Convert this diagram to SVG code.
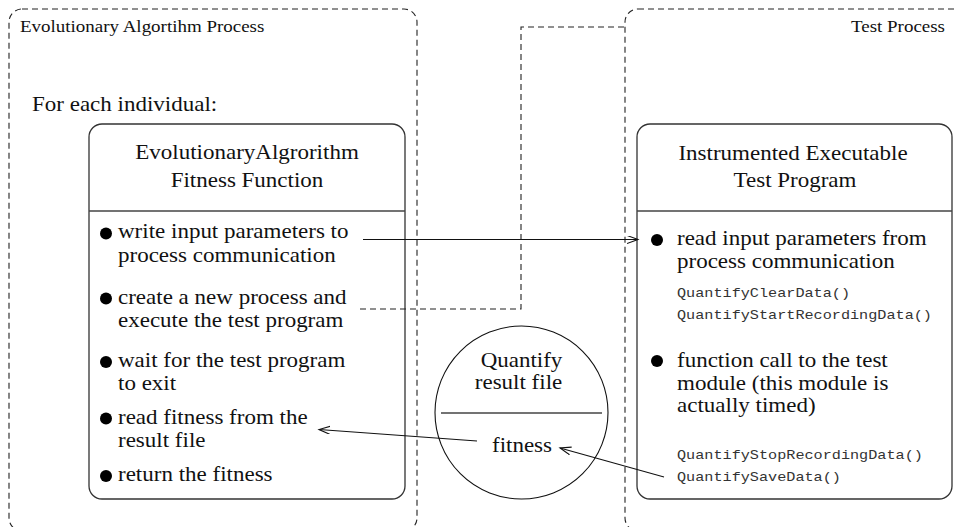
<svg xmlns="http://www.w3.org/2000/svg" width="954" height="527" viewBox="0 0 954 527">
  <defs>
    <style>
      .t { font-family: "Liberation Serif", "Times New Roman", serif; font-size: 20px; fill: #111; }
      .h { font-size: 16.5px; }
      .c { text-anchor: middle; }
      .e { text-anchor: end; }
      .m { font-family: "Liberation Mono", "Courier New", monospace; font-size: 13.2px; fill: #333; }
      .proc { fill: none; stroke: #222; stroke-width: 1.1; stroke-dasharray: 6 4; }
      .box { fill: #fff; stroke: #333; stroke-width: 1.3; }
      .div { stroke: #444; stroke-width: 1.3; }
      .dot { fill: #000; }
      .link { fill: none; stroke: #111; stroke-width: 1.1; }
      .dlink { fill: none; stroke: #222; stroke-width: 1.1; stroke-dasharray: 6 4; }
    </style>
    <marker id="open" markerUnits="userSpaceOnUse" markerWidth="14" markerHeight="10" refX="11" refY="4" orient="auto">
      <path d="M0,0 L11,4 L0,8" fill="none" stroke="#111" stroke-width="1.1"/>
    </marker>
  </defs>

  <rect width="954" height="527" fill="#fff"/>

  <!-- process containers -->
  <g id="ea-process">
    <rect class="proc" x="9" y="9" width="408" height="522" rx="13"/>
    <text class="t h" transform="translate(20 32) scale(1.15 1)">Evolutionary Algortihm Process</text>
    <text class="t" transform="translate(32 111) scale(1.15 1)">For each individual:</text>
  </g>

  <g id="test-process">
    <rect class="proc" x="625" y="9" width="360" height="522" rx="13"/>
    <text class="t h e" transform="translate(945 32) scale(1.15 1)">Test Process</text>
  </g>

  <!-- fitness function node -->
  <g id="fitness-function">
    <rect class="box" x="89" y="124" width="316" height="375" rx="13"/>
    <line class="div" x1="89" y1="211" x2="405" y2="211"/>
    <text class="t c" transform="translate(247 159) scale(1.15 1)">EvolutionaryAlgrorithm</text>
    <text class="t c" transform="translate(247 186.5) scale(1.15 1)">Fitness Function</text>
    <circle class="dot" cx="106" cy="233.5" r="6"/>
    <text class="t" transform="translate(118 238) scale(1.15 1)">write input parameters to</text>
    <text class="t" transform="translate(118 261.5) scale(1.15 1)">process communication</text>
    <circle class="dot" cx="106" cy="298.5" r="6"/>
    <text class="t" transform="translate(118 303.5) scale(1.15 1)">create a new process and</text>
    <text class="t" transform="translate(118 326.5) scale(1.15 1)">execute the test program</text>
    <circle class="dot" cx="106" cy="362" r="6"/>
    <text class="t" transform="translate(118 367) scale(1.15 1)">wait for the test program</text>
    <text class="t" transform="translate(118 390) scale(1.15 1)">to exit</text>
    <circle class="dot" cx="106" cy="418.5" r="6"/>
    <text class="t" transform="translate(118 423.5) scale(1.15 1)">read fitness from the</text>
    <text class="t" transform="translate(118 446.5) scale(1.15 1)">result file</text>
    <circle class="dot" cx="106" cy="476" r="6"/>
    <text class="t" transform="translate(118 481) scale(1.15 1)">return the fitness</text>
  </g>

  <!-- instrumented test program node -->
  <g id="test-program">
    <rect class="box" x="637" y="124" width="315" height="375" rx="13"/>
    <line class="div" x1="637" y1="211" x2="952" y2="211"/>
    <text class="t c" transform="translate(793 160) scale(1.15 1)">Instrumented Executable</text>
    <text class="t c" transform="translate(795 187) scale(1.15 1)">Test Program</text>
    <circle class="dot" cx="657" cy="240" r="6"/>
    <text class="t" transform="translate(677 245) scale(1.15 1)">read input parameters from</text>
    <text class="t" transform="translate(677 268.3) scale(1.15 1)">process communication</text>
    <text class="m" transform="translate(677 297.3) scale(1.15 1)">QuantifyClearData()</text>
    <text class="m" transform="translate(677 319.3) scale(1.15 1)">QuantifyStartRecordingData()</text>
    <circle class="dot" cx="657" cy="361" r="6"/>
    <text class="t" transform="translate(677 366.7) scale(1.15 1)">function call to the test</text>
    <text class="t" transform="translate(677 390) scale(1.15 1)">module (this module is</text>
    <text class="t" transform="translate(677 412) scale(1.15 1)">actually timed)</text>
    <text class="m" transform="translate(677 459.3) scale(1.15 1)">QuantifyStopRecordingData()</text>
    <text class="m" transform="translate(677 480.7) scale(1.15 1)">QuantifySaveData()</text>
  </g>

  <!-- result file node -->
  <g id="result-file">
    <circle cx="521.5" cy="412.5" r="86.5" fill="none" stroke="#111" stroke-width="1.1"/>
    <line class="div" x1="441" y1="413" x2="602" y2="413"/>
    <text class="t c" transform="translate(521.5 367) scale(1.15 1)">Quantify</text>
    <text class="t c" transform="translate(518.5 389) scale(1.15 1)">result file</text>
    <text class="t c" transform="translate(522 452) scale(1.15 1)">fitness</text>
  </g>

  <!-- connectors -->
  <g id="connectors">
    <polyline class="dlink" points="360,309 521,309 521,27 625,27"/>
    <line class="link" x1="363" y1="239.5" x2="638" y2="239.5" marker-end="url(#open)"/>
    <line class="link" x1="477" y1="441" x2="319" y2="429.5" marker-end="url(#open)"/>
    <line class="link" x1="664" y1="477" x2="560" y2="448" marker-end="url(#open)"/>
  </g>
</svg>
